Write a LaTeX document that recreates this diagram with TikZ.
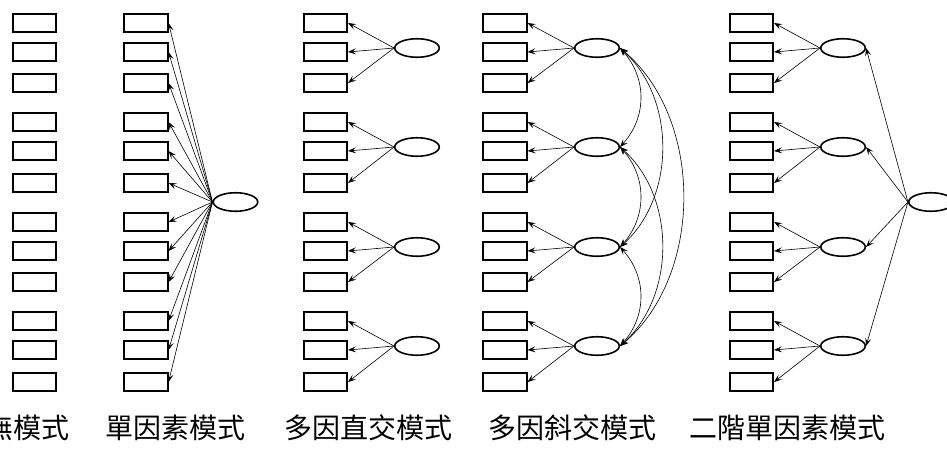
\documentclass[tikz,border=0pt]{standalone}
\usepackage{fontspec}
\newfontfamily\cjk{Noto Sans CJK TC}
\usetikzlibrary{arrows.meta,shapes.geometric}
\begin{document}
\begin{tikzpicture}[x=1pt,y=-1pt,
  obs/.style={draw,line width=1.6pt,minimum width=43.5pt,minimum height=18.5pt,inner sep=0pt},
  lat/.style={draw,ellipse,line width=1.6pt,minimum width=44.5pt,minimum height=18.5pt,inner sep=0pt},
  tip/.tip={Stealth[length=8pt,width=6pt,inset=3.5pt]},
  ld/.style={line width=0.6pt,-tip},
  cor/.style={line width=0.6pt,tip-tip},
  lab/.style={font=\cjk\fontsize{28}{30}\selectfont,inner sep=0pt}]
\useasboundingbox (0,0) rectangle (947,448);
\clip (0,0) rectangle (947,448);
% observed variables
\foreach \col/\x in {1/34.5,2/146,3/325.5,4/505,5/751.5}{
  \foreach \i/\y in {1/23,2/52,3/83,4/122,5/151,6/183,7/222,8/251,9/282,10/321,11/350,12/382}{
    \node[obs] (c\col b\i) at (\x,\y) {};
  }
}
% single factor model
\node[lat] (sf) at (235.5,202) {};
\foreach \i in {1,...,12}{\draw[ld] (sf.west) -- (c2b\i.east);}
% group factors
\foreach \col/\x in {3/417,4/597,5/843}{
  \foreach \g/\y/\a/\b/\c in {1/48/1/2/3,2/147/4/5/6,3/247/7/8/9,4/346/10/11/12}{
    \node[lat] (c\col f\g) at (\x,\y) {};
    \draw[ld] (c\col f\g.west) -- (c\col b\a.east);
    \draw[ld] (c\col f\g.west) -- (c\col b\b.east);
    \draw[ld] (c\col f\g.west) -- (c\col b\c.east);
  }
}
% correlations (oblique model)
\foreach \p/\q in {1/2,2/3,3/4}{
  \draw[cor] (c4f\p.east) .. controls +(27,30) and +(27,-30) .. (c4f\q.east);
}
\foreach \p/\q in {1/3,2/4}{
  \draw[cor] (c4f\p.east) .. controls +(56,50) and +(56,-50) .. (c4f\q.east);
}
\draw[cor] (c4f1.east) .. controls +(84,70) and +(84,-70) .. (c4f4.east);
% second-order factor
\node[lat] (so) at (931,202) {};
\foreach \g in {1,...,4}{\draw[ld] (so.west) -- (c5f\g.east);}
% labels
\node[lab,anchor=east] (l1) at (70,428) {虛無模式};
\node[lab] (l2) at (175.5,428) {單因素模式};
\node[lab] (l3) at (368,428) {多因直交模式};
\node[lab] (l4) at (572,428) {多因斜交模式};
\node[lab] (l5) at (787,428) {二階單因素模式};
\end{tikzpicture}
\end{document}
